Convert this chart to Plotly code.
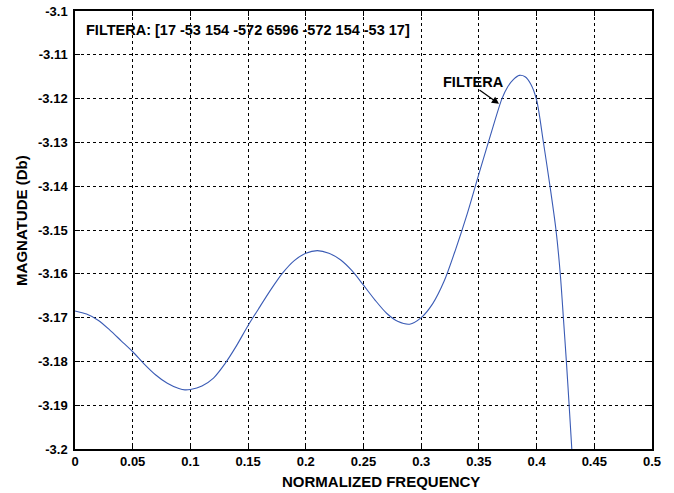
import plotly.graph_objects as go

# Data
freq = [0.0, 0.01, 0.02, 0.03, 0.04, 0.05, 0.06, 0.07, 0.08, 0.09, 0.0953, 0.1,
        0.11, 0.12, 0.13, 0.14, 0.15, 0.16, 0.17, 0.18, 0.19, 0.2, 0.21, 0.22,
        0.23, 0.24, 0.25, 0.26, 0.27, 0.28, 0.29, 0.3, 0.31, 0.32, 0.33, 0.34,
        0.35, 0.36, 0.37, 0.375, 0.38, 0.385, 0.39, 0.395, 0.4, 0.4058, 0.4116,
        0.4168, 0.4205, 0.4232, 0.4258, 0.4282, 0.4305]
mag_db = [-3.1685, -3.1692, -3.1706, -3.1728, -3.1753, -3.1778, -3.1806, -3.1831,
          -3.1850, -3.1862, -3.1865, -3.1864, -3.1856, -3.1838, -3.1805, -3.1764,
          -3.1718, -3.1676, -3.1635, -3.1598, -3.1570, -3.1553, -3.1547, -3.1553,
          -3.1568, -3.1593, -3.1626, -3.1660, -3.1690, -3.1709, -3.1715, -3.1700,
          -3.1668, -3.1616, -3.1543, -3.1462, -3.1372, -3.1284, -3.1200, -3.1173,
          -3.1156, -3.1147, -3.1150, -3.1167, -3.1203, -3.1298, -3.1400, -3.1500,
          -3.1600, -3.1700, -3.1800, -3.1900, -3.2000]

x_ticks = [0, 0.05, 0.1, 0.15, 0.2, 0.25, 0.3, 0.35, 0.4, 0.45, 0.5]
x_tick_text = ["0", "0.05", "0.1", "0.15", "0.2", "0.25", "0.3", "0.35", "0.4", "0.45", "0.5"]
y_ticks = [-3.2, -3.19, -3.18, -3.17, -3.16, -3.15, -3.14, -3.13, -3.12, -3.11, -3.1]
y_tick_text = ["-3.2", "-3.19", "-3.18", "-3.17", "-3.16", "-3.15", "-3.14", "-3.13", "-3.12", "-3.11", "-3.1"]

x_title = "NORMALIZED FREQUENCY"
y_title = "MAGNATUDE (Db)"
title_text = "FILTERA: [17 -53 154 -572 6596 -572 154 -53 17]"
curve_label = "FILTERA"
arrow_head = (0.3674, -3.1212)
arrow_tail = (0.3492, -3.1178)

FONT = "Liberation Sans, Arial, sans-serif"

fig = go.Figure()
fig.add_trace(go.Scatter(x=freq, y=mag_db, mode="lines",
                         line=dict(color="#3a5bb5", width=1.1, shape="spline", smoothing=0.8),
                         showlegend=False))

axis_common = dict(showline=True, linecolor="black", linewidth=1.5, mirror="ticks",
                   ticks="inside", ticklen=5, tickcolor="black", showgrid=True,
                   gridcolor="black", griddash="dot", gridwidth=1, zeroline=False,
                   automargin=False,
                   tickfont=dict(family=FONT, size=13, color="black", weight="bold"))

fig.update_xaxes(range=[0, 0.5], tickvals=x_ticks, ticktext=x_tick_text, **axis_common)
fig.update_yaxes(range=[-3.2, -3.1], tickvals=y_ticks, ticktext=y_tick_text,
                 ticklabelstandoff=3, **axis_common)

title_font = dict(family=FONT, size=15, color="black", weight="bold")
fig.add_annotation(x=0.530, y=-0.0753, xref="paper", yref="paper", text=x_title,
                   showarrow=False, xanchor="center", yanchor="middle", font=title_font)
fig.add_annotation(x=-0.0919, y=0.523, xref="paper", yref="paper", text=y_title,
                   showarrow=False, xanchor="center", yanchor="middle", textangle=-90,
                   font=title_font)

fig.add_annotation(x=0.008, y=-3.1043, xref="x", yref="y", text=title_text, showarrow=False,
                   xanchor="left", yanchor="middle",
                   font=dict(family=FONT, size=14.5, color="black", weight="bold"))
fig.add_annotation(x=arrow_head[0], y=arrow_head[1], xref="x", yref="y",
                   ax=arrow_tail[0], ay=arrow_tail[1], axref="x", ayref="y",
                   text="", showarrow=True, arrowhead=2, arrowsize=1.2, arrowwidth=1.2,
                   arrowcolor="black")
fig.add_annotation(x=0.345, y=-3.1162, xref="x", yref="y", text=curve_label, showarrow=False,
                   xanchor="center", yanchor="middle",
                   font=dict(family=FONT, size=14.5, color="black", weight="bold"))

fig.update_layout(width=674, height=493, margin=dict(l=75, r=22, t=11, b=44),
                  plot_bgcolor="white", paper_bgcolor="white", showlegend=False)

fig.write_html("out.html")
